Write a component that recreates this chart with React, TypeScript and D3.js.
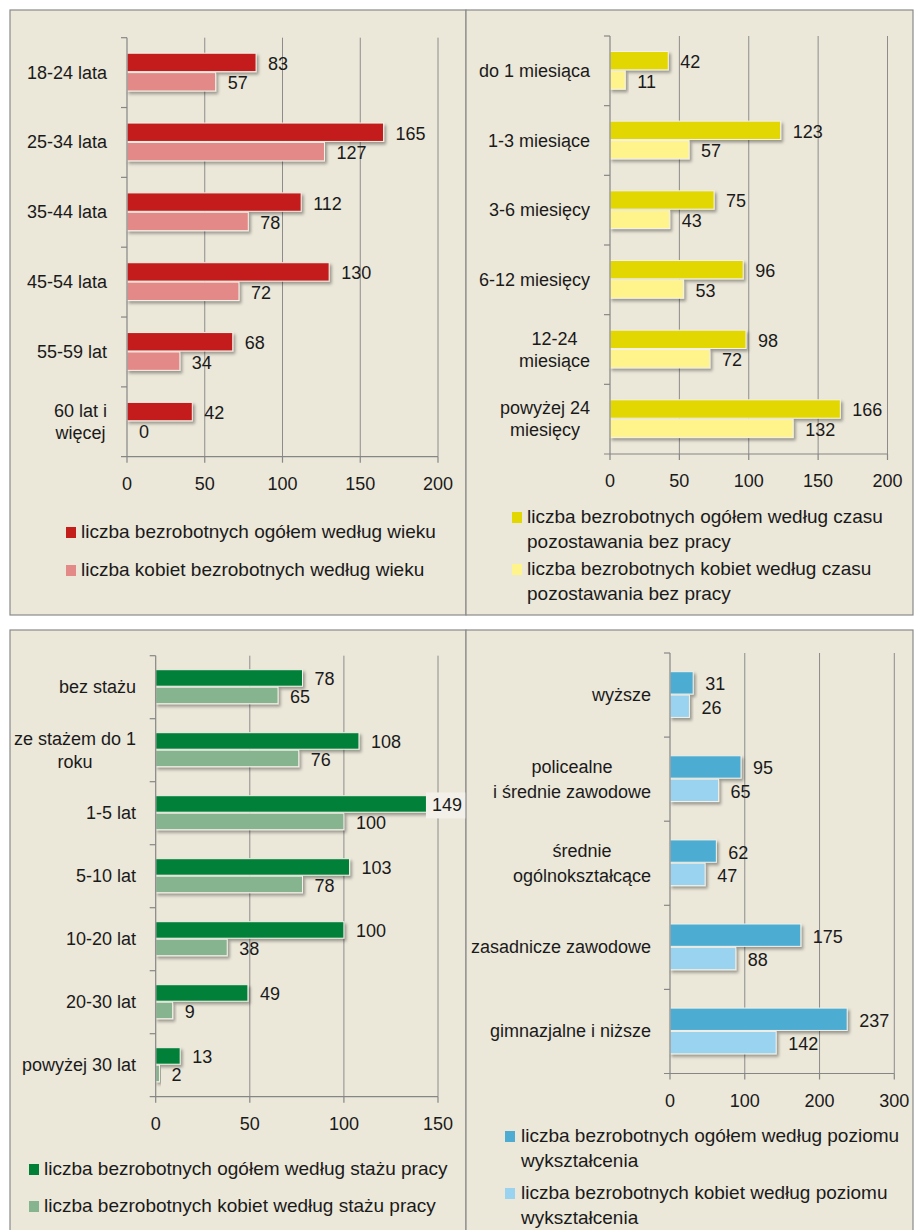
import React, { useEffect, useRef } from 'react';
import * as d3 from 'd3';

// wiek
const ageCategories = [['18-24 lata'], ['25-34 lata'], ['35-44 lata'], ['45-54 lata'], ['55-59 lat'], ['60 lat i', 'więcej']];
const ageTotal = [83, 165, 112, 130, 68, 42];
const ageWomen = [57, 127, 78, 72, 34, 0];
const ageTicks = [0, 50, 100, 150, 200];
const ageLegend = [['liczba bezrobotnych ogółem według wieku'], ['liczba kobiet bezrobotnych według wieku']];

// czas pozostawania bez pracy
const durationCategories = [['do 1 miesiąca'], ['1-3 miesiące'], ['3-6 miesięcy'], ['6-12 miesięcy'], ['12-24', 'miesiące'], ['powyżej 24', 'miesięcy']];
const durationTotal = [42, 123, 75, 96, 98, 166];
const durationWomen = [11, 57, 43, 53, 72, 132];
const durationTicks = [0, 50, 100, 150, 200];
const durationLegend = [
  ['liczba bezrobotnych ogółem według czasu', 'pozostawania bez pracy'],
  ['liczba bezrobotnych kobiet według czasu', 'pozostawania bez pracy'],
];

// staż pracy
const seniorityCategories = [['bez stażu'], ['ze stażem do 1', 'roku'], ['1-5 lat'], ['5-10 lat'], ['10-20 lat'], ['20-30 lat'], ['powyżej 30 lat']];
const seniorityTotal = [78, 108, 149, 103, 100, 49, 13];
const seniorityWomen = [65, 76, 100, 78, 38, 9, 2];
const seniorityTicks = [0, 50, 100, 150];
const seniorityLegend = [['liczba bezrobotnych ogółem według stażu pracy'], ['liczba bezrobotnych kobiet według stażu pracy']];

// wykształcenie
const educationCategories = [['wyższe'], ['policealne', 'i średnie zawodowe'], ['średnie', 'ogólnokształcące'], ['zasadnicze zawodowe'], ['gimnazjalne i niższe']];
const educationTotal = [31, 95, 62, 175, 237];
const educationWomen = [26, 65, 47, 88, 142];
const educationTicks = [0, 100, 200, 300];
const educationLegend = [
  ['liczba bezrobotnych ogółem według poziomu', 'wykształcenia'],
  ['liczba bezrobotnych kobiet według poziomu', 'wykształcenia'],
];

const FONT = "'Liberation Sans', Arial, sans-serif";
const BG = '#ebe7d9';
const GRID = '#8c8c8c';

const panels = [
  {
    categories: ageCategories, total: ageTotal, women: ageWomen, ticks: ageTicks, legend: ageLegend,
    colors: ['#c41e1a', '#e38a88'],
    box: [10, 10, 456, 605], plot: [127, 438, 37.7, 456.7], labelRight: 107, lineH: 22,
    legendPos: { mx: 66, tx: 81, rows: [538, 576], lineH: 25 },
  },
  {
    categories: durationCategories, total: durationTotal, women: durationWomen, ticks: durationTicks, legend: durationLegend,
    colors: ['#e2d700', '#fff48c'],
    box: [466, 10, 447, 605], plot: [610, 887.5, 36, 454], labelRight: 590, lineH: 22,
    legendPos: { mx: 512, tx: 527, rows: [523, 575], lineH: 25 },
  },
  {
    categories: seniorityCategories, total: seniorityTotal, women: seniorityWomen, ticks: seniorityTicks, legend: seniorityLegend,
    colors: ['#008037', '#86b48e'],
    box: [10, 630, 456, 610], plot: [155.7, 438, 655.7, 1096.7], labelRight: 136, lineH: 23,
    legendPos: { mx: 29, tx: 44, rows: [1175, 1212], lineH: 25 },
  },
  {
    categories: educationCategories, total: educationTotal, women: educationWomen, ticks: educationTicks, legend: educationLegend,
    colors: ['#4eacd2', '#99d3f0'],
    box: [466, 630, 447, 610], plot: [670, 894.3, 653, 1073.5], labelRight: 651, lineH: 25,
    legendPos: { mx: 505, tx: 521, rows: [1142, 1199], lineH: 25 },
  },
];

const App = () => {
  const ref = useRef<SVGSVGElement>(null);

  useEffect(() => {
    const svg = d3.select(ref.current);
    svg.selectAll('*').remove();

    const defs = svg.append('defs');
    defs.append('filter').attr('id', 'shadow').attr('x', '-10%').attr('y', '-30%').attr('width', '130%').attr('height', '180%')
      .append('feDropShadow').attr('dx', 2).attr('dy', 2.5).attr('stdDeviation', 1.6)
      .attr('flood-color', '#000').attr('flood-opacity', 0.35);

    svg.append('rect').attr('width', 914).attr('height', 1230).attr('fill', '#fff');

    panels.forEach((p) => {
      const g = svg.append('g').attr('font-family', FONT).attr('fill', '#1a1a1a');
      const [bx, by, bw, bh] = p.box;
      g.append('rect').attr('x', bx).attr('y', by).attr('width', bw).attr('height', bh)
        .attr('fill', BG).attr('stroke', '#8a8a8a').attr('stroke-width', 1.2);

      const [x0, x1, y0, y1] = p.plot;
      const max = p.ticks[p.ticks.length - 1];
      const x = d3.scaleLinear().domain([0, max]).range([x0, x1]);
      const pad = 0.8 / 1.8;
      const y = d3.scaleBand<number>().domain(d3.range(p.categories.length)).range([y0, y1])
        .paddingInner(pad).paddingOuter(pad / 2);
      const sub = d3.scaleBand<number>().domain([0, 1]).range([0, y.bandwidth()]);

      // siatka
      g.selectAll('.grid').data(p.ticks.slice(1)).enter().append('line')
        .attr('x1', (d) => x(d)).attr('x2', (d) => x(d)).attr('y1', y0).attr('y2', y1)
        .attr('stroke', GRID).attr('stroke-width', 1);

      // słupki
      const series = [p.total, p.women];
      series.forEach((vals, si) => {
        g.selectAll(null).data(vals).enter().append('rect')
          .attr('x', x(0)).attr('y', (d, i) => (y(i) as number) + (sub(si) as number))
          .attr('width', (d) => x(d) - x(0)).attr('height', sub.bandwidth() - 1)
          .attr('fill', p.colors[si]).attr('stroke', '#f4f1e8').attr('stroke-width', 1)
          .attr('filter', (d) => (d > 0 ? 'url(#shadow)' : null));
      });

      // osie
      const axis = g.append('g').attr('stroke', '#868686').attr('stroke-width', 1.2);
      axis.append('line').attr('x1', x0).attr('x2', x0).attr('y1', y0).attr('y2', y1);
      axis.append('line').attr('x1', x0 - 6).attr('x2', x1).attr('y1', y1).attr('y2', y1);
      const step = y.step();
      axis.selectAll(null).data(d3.range(p.categories.length)).enter().append('line')
        .attr('x1', x0 - 6).attr('x2', x0).attr('y1', (i) => y0 + i * step).attr('y2', (i) => y0 + i * step);
      axis.selectAll(null).data(p.ticks).enter().append('line')
        .attr('x1', (d) => x(d)).attr('x2', (d) => x(d)).attr('y1', y1).attr('y2', y1 + 6);

      // etykiety wartości (przesuwane w lewo, gdy wychodzą poza panel)
      const rightLimit = bx + bw - 4;
      series.forEach((vals, si) => {
        vals.forEach((v, i) => {
          const cy = (y(i) as number) + (sub(si) as number) + sub.bandwidth() / 2 + 1;
          const t = g.append('text').attr('x', x(v) + 12).attr('y', cy)
            .attr('dominant-baseline', 'central').attr('font-size', 18).text(v);
          const w = (t.node() as SVGTextElement).getComputedTextLength();
          if (x(v) + 12 + w > rightLimit) {
            const lx = rightLimit - w;
            g.insert('rect', () => t.node() as any)
              .attr('x', lx - 6).attr('y', cy - 13).attr('width', w + 12).attr('height', 26)
              .attr('fill', '#f2f0e8');
            t.attr('x', lx);
          }
        });
      });

      // etykiety wartości osi X
      g.selectAll(null).data(p.ticks).enter().append('text')
        .attr('x', (d) => x(d)).attr('y', y1 + 33).attr('text-anchor', 'middle').attr('font-size', 18)
        .text((d) => d);

      // etykiety kategorii
      p.categories.forEach((lines, i) => {
        const cy = (y(i) as number) + y.bandwidth() / 2;
        const t = g.append('text').attr('font-size', 18).attr('text-anchor', 'middle');
        const spans = lines.map((line, li) =>
          t.append('tspan').attr('y', cy + (li - (lines.length - 1) / 2) * p.lineH)
            .attr('dominant-baseline', 'central').text(line));
        const w = d3.max(spans, (s) => (s.node() as SVGTSpanElement).getComputedTextLength()) || 0;
        spans.forEach((s) => s.attr('x', p.labelRight - w / 2));
      });

      // legenda
      const lp = p.legendPos;
      p.legend.forEach((lines, li) => {
        const base = lp.rows[li];
        g.append('rect').attr('x', lp.mx).attr('y', base - 11).attr('width', 10).attr('height', 11)
          .attr('fill', p.colors[li]);
        const t = g.append('text').attr('font-size', 19);
        lines.forEach((line, k) => {
          t.append('tspan').attr('x', lp.tx).attr('y', base + k * lp.lineH).text(line);
        });
      });
    });
  }, []);

  return (
    <svg ref={ref} width={914} height={1230} style={{ position: 'absolute', left: 0, top: 0 }} />
  );
};

export default App;
